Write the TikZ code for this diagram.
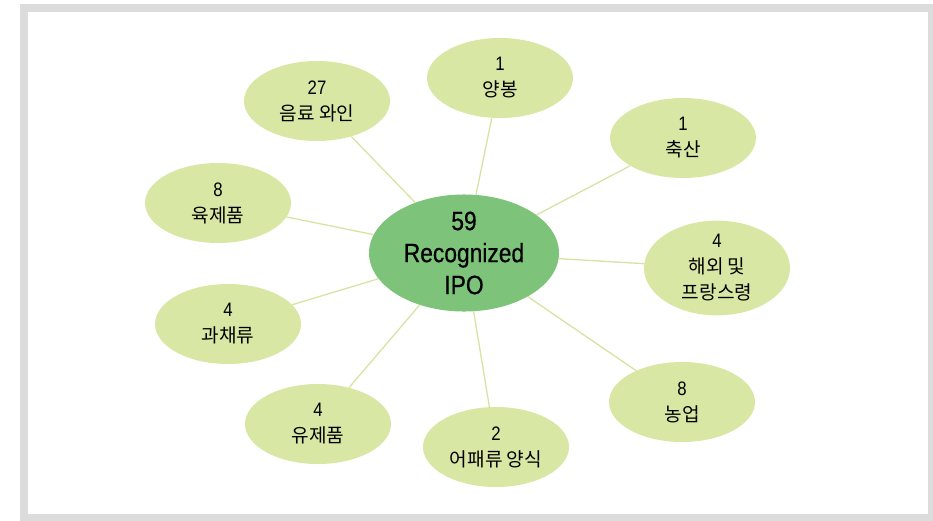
\documentclass[tikz,border=0pt]{standalone}
\usepackage{fontspec}
\setmainfont{Liberation Sans}[FakeStretch=0.86]
\newfontfamily\hubfont{Liberation Sans}[FakeStretch=0.86, FakeBold=0.6]
\newfontfamily\kr{Noto Sans CJK KR}[Scale=0.98]
\usetikzlibrary{shapes.geometric}
\definecolor{hubgreen}{HTML}{7DC37A}
\definecolor{leafgreen}{HTML}{D8E7A4}
\definecolor{linkgreen}{HTML}{D6E3A2}
\definecolor{framegray}{HTML}{DCDCDC}

\begin{document}
\begin{tikzpicture}[x=1pt, y=-1pt,
  leaf/.style={ellipse, fill=leafgreen, minimum width=146pt, minimum height=80pt, inner sep=0pt, align=center, font=\fontsize{19.5}{26}\selectfont},
  hub/.style={ellipse, fill=hubgreen, minimum width=190pt, minimum height=116pt, inner sep=0pt, align=center, font=\hubfont\fontsize{26.5}{32}\selectfont},
  link/.style={draw=linkgreen, line width=1.3pt}]
\useasboundingbox (0,0) rectangle (933,520);
% frame
\draw[framegray, line width=8pt] (24,8) rectangle (932,518);

% hub
\node[hub] (ipo) at (464,253) {59\\Recognized\\IPO};

% satellites
\node[leaf] (apic) at (500,78) {1\\{\kr 양봉}};
\node[leaf] (live) at (683,138) {1\\{\kr 축산}};
\node[leaf] (over) at (717,268) {4\\{\kr 해외 및}\\{\kr 프랑스령}};
\node[leaf] (agri) at (682,402) {8\\{\kr 농업}};
\node[leaf] (aqua) at (496,447) {2\\{\kr 어패류 양식}};
\node[leaf] (dairy) at (318,424) {4\\{\kr 유제품}};
\node[leaf] (fruit) at (228,324) {4\\{\kr 과채류}};
\node[leaf] (meat) at (218,203) {8\\{\kr 육제품}};
\node[leaf] (wine) at (317,101) {27\\{\kr 음료 와인}};

% links
\foreach \s in {apic, live, over, agri, aqua, dairy, fruit, meat, wine}
  \draw[link] (\s) -- (ipo);
\end{tikzpicture}
\end{document}
